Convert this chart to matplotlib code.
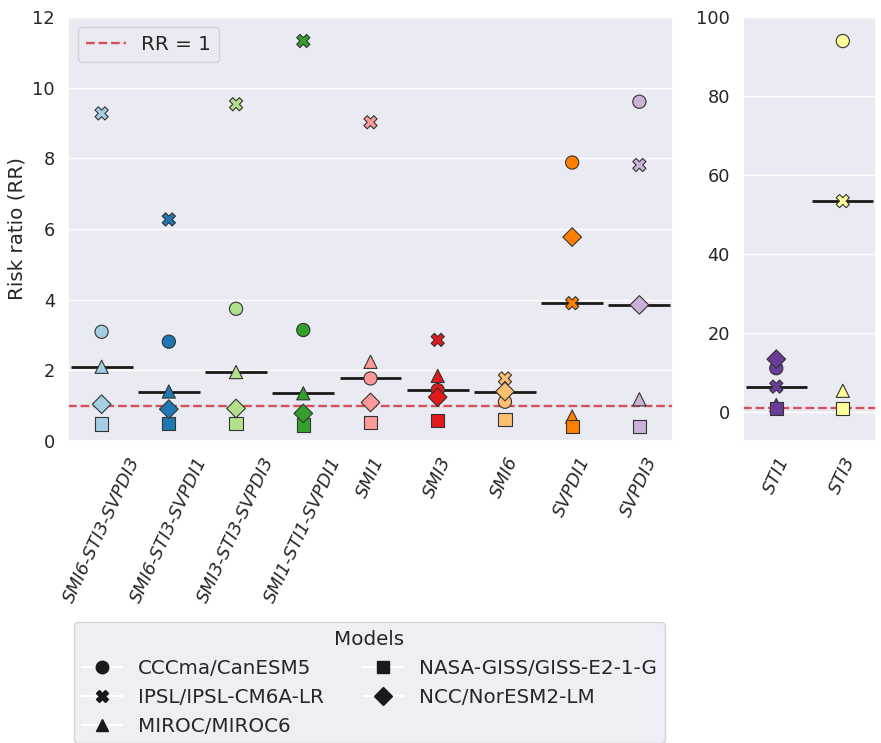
import numpy as np
import matplotlib.pyplot as plt
import seaborn as sns
from matplotlib.lines import Line2D

# categories (left panel: compound / soil-moisture / VPD indices, right panel: temperature indices)
left_cats = ['SMI6-STI3-SVPDI3', 'SMI6-STI3-SVPDI1', 'SMI3-STI3-SVPDI3', 'SMI1-STI1-SVPDI1',
             'SMI1', 'SMI3', 'SMI6', 'SVPDI1', 'SVPDI3']
right_cats = ['STI1', 'STI3']

models = ['CCCma/CanESM5', 'IPSL/IPSL-CM6A-LR', 'MIROC/MIROC6',
          'NASA-GISS/GISS-E2-1-G', 'NCC/NorESM2-LM']
markers = ['o', 'X', '^', 's', 'D']

# risk ratios per model, one value per category
rr_left = {
    'CCCma/CanESM5':         [3.09, 2.81, 3.74, 3.14, 1.77, 1.44, 1.11, 7.88, 9.60],
    'IPSL/IPSL-CM6A-LR':     [9.27, 6.27, 9.53, 11.32, 9.02, 2.86, 1.77, 3.90, 7.81],
    'MIROC/MIROC6':          [2.10, 1.40, 1.95, 1.35, 2.24, 1.84, 1.50, 0.69, 1.18],
    'NASA-GISS/GISS-E2-1-G': [0.48, 0.50, 0.50, 0.45, 0.52, 0.58, 0.61, 0.41, 0.42],
    'NCC/NorESM2-LM':        [1.04, 0.90, 0.92, 0.78, 1.09, 1.24, 1.40, 5.77, 3.85],
}
rr_right = {
    'CCCma/CanESM5':         [11.1, 93.9],
    'IPSL/IPSL-CM6A-LR':     [6.45, 53.4],
    'MIROC/MIROC6':          [1.8, 5.4],
    'NASA-GISS/GISS-E2-1-G': [1.0, 0.95],
    'NCC/NorESM2-LM':        [13.4, 165.0],
}

palette = sns.color_palette('Paired', 12)
left_colors = palette[:9]
right_colors = palette[9:11]

sns.set_theme(style='darkgrid')
plt.rcParams['font.family'] = 'DejaVu Sans'

fig = plt.figure(figsize=(8.81, 7.43), dpi=100)
ax1 = fig.add_axes([0.0772, 0.4065, 0.6867, 0.5707])
ax2 = fig.add_axes([0.8434, 0.4065, 0.1510, 0.5707])

rr_color = '#d64f5c'


def draw_panel(ax, cats, data, colors):
    x = np.arange(len(cats))
    vals = np.array([data[m] for m in models])
    med = np.median(vals, axis=0)
    ax.hlines(med, x - 0.46, x + 0.46, color='k', lw=2, zorder=2)
    line = ax.axhline(1, color=rr_color, ls='--', lw=1.7, zorder=2.5, label='RR = 1')
    for m, mk in zip(models, markers):
        ax.scatter(x, data[m], marker=mk, s=90, c=colors, edgecolors='#333333',
                   linewidths=0.8, zorder=3)
    ax.set_xticks(x)
    ax.set_xticklabels(cats, rotation=65, style='italic', fontsize=12.8)
    ax.set_xlim(-0.5, len(cats) - 0.5)
    ax.tick_params(axis='y', labelsize=12.8)
    ax.xaxis.grid(False)
    return line


rr_line = draw_panel(ax1, left_cats, rr_left, left_colors)
draw_panel(ax2, right_cats, rr_right, right_colors)

ax1.set_ylim(0, 12)
ax1.set_yticks(np.arange(0, 13, 2))
ax2.set_ylim(-7.3, 100)
ax2.set_yticks(np.arange(0, 101, 20))

ax1.set_ylabel('Risk ratio (RR)', fontsize=14.3)
ax1.legend(handles=[rr_line], loc='upper left', fontsize=14.3)

handles = [Line2D([0], [0], marker=mk, color='w', markerfacecolor='k',
                  markeredgecolor='k', markersize=9, label=m)
           for m, mk in zip(models, markers)]
fig.legend(handles=handles, title='Models', ncol=2, loc='upper center',
           bbox_to_anchor=(0.4194, 0.1765), fontsize=14.3, title_fontsize=14.3)

fig.savefig('out.png', dpi=100)
